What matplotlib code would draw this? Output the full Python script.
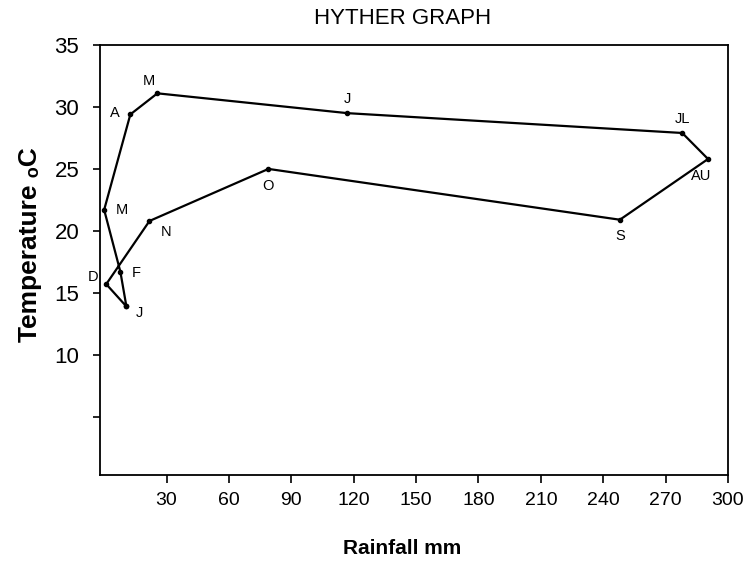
import matplotlib.pyplot as plt

# monthly rainfall (mm) and temperature (C), Jan..Dec
months = ["J", "F", "M", "A", "M", "J", "JL", "AU", "S", "O", "N", "D"]
rainfall = [10.7, 7.8, 0.0, 12.6, 25.6, 117, 278, 290.4, 248, 79, 21.8, 1.0]
temperature = [13.9, 16.7, 21.7, 29.4, 31.1, 29.5, 27.9, 25.8, 20.9, 25.0, 20.8, 15.7]

# label offsets in points (dx, dy) and alignment
offsets = [(7, -5, "left"), (8, -1, "left"), (8, 0, "left"), (-8, 1, "right"),
           (-6, 9, "center"), (0, 10, "center"), (0, 10, "center"), (-5, -12, "center"),
           (0, -12, "center"), (0, -12, "center"), (8, -8, "left"), (-6, 5, "right")]

plt.rcParams['font.family'] = ['Liberation Sans', 'DejaVu Sans']

fig = plt.figure(figsize=(7.49, 5.62), dpi=100)
ax = fig.add_axes([100/749, 1-475/562, 628/749, 430/562])

x = rainfall + [rainfall[0]]
y = temperature + [temperature[0]]
ax.plot(x, y, color="black", lw=1.6, marker="o", ms=3)

for m, xv, yv, (dx, dy, ha) in zip(months, rainfall, temperature, offsets):
    ax.annotate(m, (xv, yv), xytext=(dx, dy), textcoords="offset points",
                ha=ha, va="center", fontsize=10.5)

ax.set_xlim(-2, 300)
ax.set_ylim(0.3, 35)
ax.set_xticks(range(30, 301, 30))
ax.set_yticks(range(5, 36, 5))
ax.set_yticklabels(["", "10", "15", "20", "25", "30", "35"])
ax.tick_params(axis="y", direction="out", length=5, width=1.2, labelsize=16, pad=10)
ax.tick_params(axis="x", direction="out", length=6, width=1.2, labelsize=14, pad=6)
for s in ax.spines.values():
    s.set_linewidth(1.3)

fig.text(403/749, 1-18/562, "HYTHER GRAPH", ha="center", va="center", fontsize=16)
fig.text(402/749, 1-548/562, "Rainfall mm", ha="center", va="center",
         fontsize=15, fontweight="bold")
fig.text(30/749, 1-245/562, "Temperature \u2092C", ha="center", va="center",
         rotation=90, fontsize=19, fontweight="bold")

fig.savefig("out.png", dpi=100)
